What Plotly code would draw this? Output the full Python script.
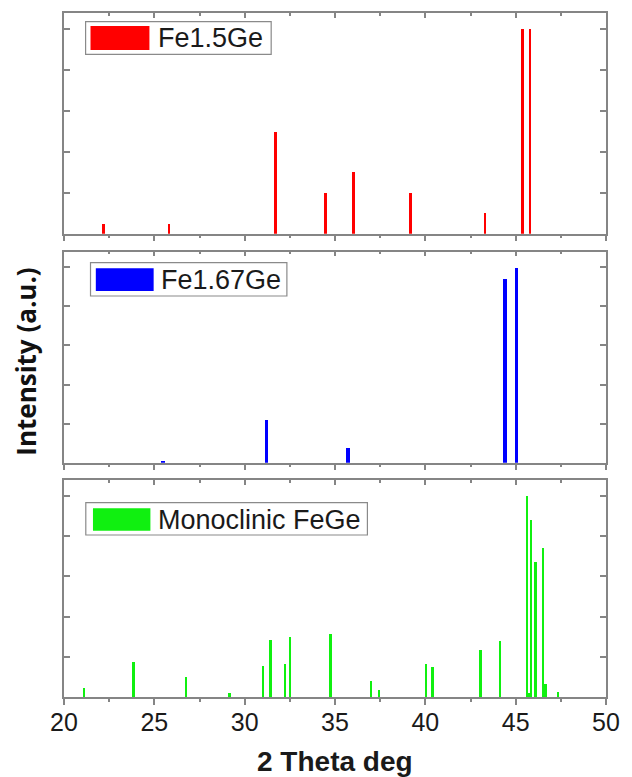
import plotly.graph_objects as go

# ---------------- data ----------------
names = ["Fe1.5Ge", "Fe1.67Ge", "Monoclinic FeGe"]
colors = ["#ff0000", "#0000ff", "#10f010"]

theta_fe15 = [22.19, 25.81, 31.72, 34.49, 36.03, 39.17, 43.30, 45.36, 45.80]
int_fe15 = [4.6, 4.6, 50, 20, 30, 20, 10, 100, 100]

theta_fe167 = [25.49, 31.22, 35.71, 44.41, 45.06]
int_fe167 = [0.9, 21.8, 7.5, 94, 100]

theta_mono = [21.11, 23.85, 26.76, 29.17, 31.03, 31.44, 32.25, 32.53, 34.76,
              37.02, 37.45, 40.06, 40.40, 43.07, 44.15, 45.63, 45.72, 45.85,
              46.10, 46.53, 46.62, 46.70, 47.37]
int_mono = [4.6, 17.4, 10, 2.1, 15.4, 28.4, 16.5, 30, 31.4,
            7.8, 3.6, 16.4, 14.7, 23.5, 27.9, 100, 2.2, 88,
            67, 74, 6.5, 6.5, 2.5]

x_ticks = [20, 25, 30, 35, 40, 45, 50]
y_ticks = [20, 40, 60, 80, 100]

x_title = "2 Theta deg"
y_title = "Intensity (a.u.)"

# ---------------- layout helpers ----------------
W, H = 632, 777
L, R, T, B = 64, 16, 13, 80
PW, PH = W - L - R, H - T - B


def px_x(px):
    return (px - L) / PW


def px_y(py):
    return (H - B - py) / PH


LC = "#858585"
FONT = "Liberation Sans, Arial, sans-serif"

panel_px = [(13, 233.7), (251.7, 462.7), (480, 697)]
bar_widths = [0.15, 0.19, 0.11]
datasets = [(theta_fe15, int_fe15), (theta_fe167, int_fe167), (theta_mono, int_mono)]

fig = go.Figure()

for i, ((xs, ys), col, bw) in enumerate(zip(datasets, colors, bar_widths)):
    k = "" if i == 0 else str(i + 1)
    fig.add_trace(go.Bar(x=xs, y=ys, width=bw, marker_color=col,
                         marker_line_width=0, name=names[i], showlegend=False,
                         xaxis="x" + k, yaxis="y" + k))
    # empty trace so the top (mirror) axis is drawn
    fig.add_trace(go.Scatter(x=[], y=[], xaxis="x" + str(i + 4), yaxis="y" + k,
                             showlegend=False, hoverinfo="skip"))

layout = dict(
    width=W, height=H,
    margin=dict(l=L, r=R, t=T, b=B),
    paper_bgcolor="white", plot_bgcolor="white",
    barmode="overlay", bargap=0,
    showlegend=False,
    font=dict(family=FONT, color="#1a1a1a"),
)

for i in range(3):
    k = "" if i == 0 else str(i + 1)
    top, bot = panel_px[i]
    layout["xaxis" + k] = dict(
        range=[20, 50], tickvals=x_ticks, showline=True, linecolor=LC,
        linewidth=1.5, showgrid=False, zeroline=False, ticks="outside",
        ticklen=6, tickwidth=1.5, tickcolor=LC,
        minor=dict(dtick=2.5, tick0=20, ticks="outside", ticklen=3,
                   tickwidth=1.5, tickcolor=LC, showgrid=False),
        showticklabels=(i == 2), tickfont=dict(size=25, family=FONT, color="#1a1a1a"),
        ticklabelstandoff=-4,
        anchor="y" + k, domain=[0, 1], fixedrange=True,
    )
    layout["xaxis" + str(i + 4)] = dict(
        range=[20, 50], tickvals=x_ticks, overlaying="x" + k, side="top",
        anchor="y" + k, showline=True, linecolor=LC, linewidth=1.5,
        showgrid=False, zeroline=False, ticks="inside", ticklen=5,
        tickwidth=1.5, tickcolor=LC,
        minor=dict(dtick=2.5, tick0=20, ticks="inside", ticklen=3,
                   tickwidth=1.5, tickcolor=LC, showgrid=False),
        showticklabels=False, fixedrange=True,
    )
    layout["yaxis" + k] = dict(
        domain=[px_y(bot), px_y(top)], range=[0, 108], anchor="x" + k,
        tickvals=y_ticks, ticks="inside", ticklen=6, tickwidth=1.5,
        tickcolor=LC, showticklabels=False, showline=True, mirror="ticks",
        linecolor=LC, linewidth=1.5, showgrid=False, zeroline=False,
        fixedrange=True,
    )

fig.update_layout(**layout)

# ---------------- legends (boxes + swatches + real text) ----------------
legend_geom = [
    # box (l, t, r, b), swatch (l, t, r, b), text left, text center y
    ((86, 21.7, 275, 54.3), (91, 26, 151, 50), 158, 38.5),
    ((91, 262.7, 291, 296), (96.4, 268.3, 155.3, 291), 161, 279.5),
    ((86.2, 502.7, 373, 535), (93.5, 508.3, 152, 530.7), 158, 519.5),
]
shapes = []
annotations = []
for (box, sw, tx, ty), col, nm in zip(legend_geom, colors, names):
    shapes.append(dict(type="rect", xref="paper", yref="paper",
                       x0=px_x(box[0]), x1=px_x(box[2]),
                       y0=px_y(box[3]), y1=px_y(box[1]),
                       line=dict(color="#8a8a8a", width=1.2), fillcolor="white",
                       layer="above"))
    shapes.append(dict(type="rect", xref="paper", yref="paper",
                       x0=px_x(sw[0]), x1=px_x(sw[2]),
                       y0=px_y(sw[3]), y1=px_y(sw[1]),
                       line=dict(width=0), fillcolor=col, layer="above"))
    annotations.append(dict(text=nm, xref="paper", yref="paper",
                            x=px_x(tx), y=px_y(ty), xanchor="left",
                            yanchor="middle", showarrow=False,
                            font=dict(size=27, family=FONT, color="#1a1a1a")))

annotations.append(dict(text="<b>%s</b>" % x_title, xref="paper", yref="paper",
                        x=0.5, y=px_y(761), xanchor="center",
                        yanchor="middle", showarrow=False,
                        font=dict(size=28, family=FONT, color="#1a1a1a")))
annotations.append(dict(text="<b>%s</b>" % y_title, xref="paper", yref="paper",
                        x=px_x(25), y=px_y(362), xanchor="center",
                        yanchor="middle", textangle=-90, showarrow=False,
                        font=dict(size=26, family="Open Sans, sans-serif",
                                  color="#111111")))

fig.update_layout(shapes=shapes, annotations=annotations)

fig.write_html("out.html")
